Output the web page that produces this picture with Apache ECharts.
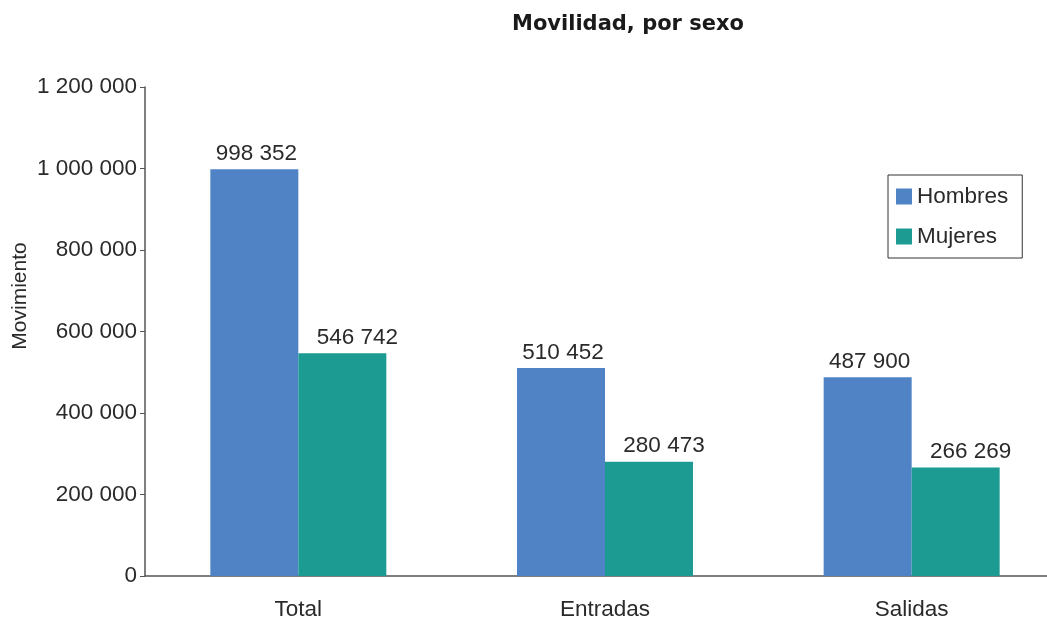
<!DOCTYPE html>
<html><head><meta charset="utf-8">
<script src="https://cdn.jsdelivr.net/npm/echarts@6/dist/echarts.min.js"></script>
<style>html,body{margin:0;padding:0;background:#fff;overflow:hidden}#c{width:1100px;height:621px}</style>
</head><body><div id="c"></div>
<script>
const categories = ["Total", "Entradas", "Salidas"];
const hombres = [998352, 510452, 487900];
const mujeres = [546742, 280473, 266269];
const yTicks = [0, 200000, 400000, 600000, 800000, 1000000, 1200000];

function fmt(v){ return String(v).replace(/\B(?=(\d{3})+(?!\d))/g, " "); }

const chart = echarts.init(document.getElementById('c'), null, {renderer:'canvas'});
const FS = 22.5;
const txt = {fontFamily:'Liberation Sans, Arial, sans-serif', fontSize:FS, color:'#2a2a2a'};
chart.setOption({
  animation:false,
  title:{text:'Movilidad, por sexo', left:623, top:9, textAlign:'center',
    textStyle:{fontFamily:'DejaVu Sans', fontWeight:'bold', fontSize:21, color:'#1a1a1a'}},
  legend:{orient:'vertical', left:888, top:175, itemWidth:16, itemHeight:16, itemGap:17,
    padding:[10,14,10,8], borderColor:'#333', borderWidth:1,
    textStyle:Object.assign({}, txt), icon:'rect'},
  graphic:[{type:'text', x:20, y:296, rotation:Math.PI/2,
    style:{text:'Movimiento', fill:'#2a2a2a', font:'21px "Liberation Sans", Arial, sans-serif',
      textAlign:'center', textVerticalAlign:'middle'}}],
  grid:{left:145, width:920, top:87, height:492},
  xAxis:{type:'category', data:categories,
    axisLine:{lineStyle:{color:'#555', width:1.5}}, axisTick:{show:false},
    axisLabel:Object.assign({margin:22}, txt)},
  yAxis:{type:'value', min:yTicks[0], max:yTicks[yTicks.length-1], interval:200000,
    axisLine:{show:true, lineStyle:{color:'#555', width:1.5}},
    axisTick:{show:true, length:5, lineStyle:{color:'#555'}},
    splitLine:{show:false},
    axisLabel:Object.assign({margin:8, formatter:fmt}, txt)},
  series:[
    {name:'Hombres', type:'bar', data:hombres, barWidth:88, barGap:'0%',
     itemStyle:{color:'#4F83C6'},
     label:{show:true, position:'top', distance:4, offset:[2,0], formatter:p=>fmt(p.value), ...txt}},
    {name:'Mujeres', type:'bar', data:mujeres, barWidth:88, barGap:'0%',
     itemStyle:{color:'#1C9B93'},
     label:{show:true, position:'top', distance:4, offset:[15,0], formatter:p=>fmt(p.value), ...txt}}
  ]
});
</script></body></html>
